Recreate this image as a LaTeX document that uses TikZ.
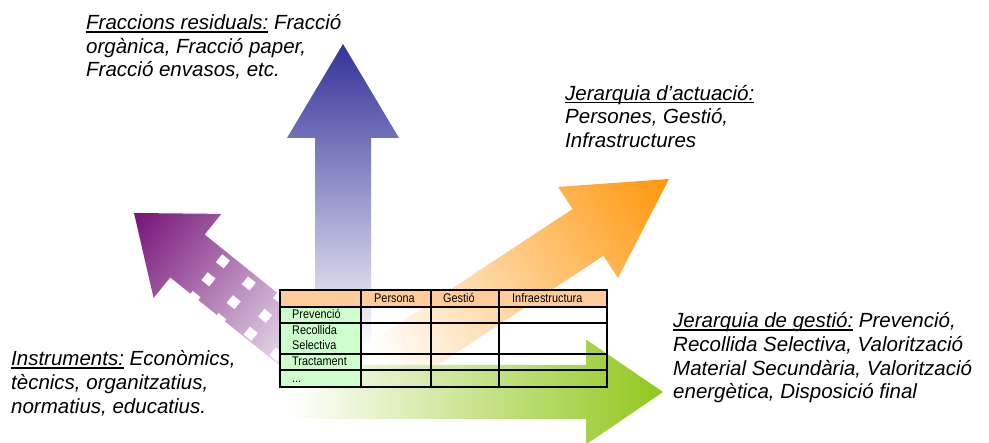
\documentclass[tikz,border=0pt]{standalone}
\usepackage{fontspec}
\setmainfont{Liberation Sans}
\newfontfamily\tabfont[FakeStretch=0.87]{Liberation Sans}
\definecolor{bluetip}{RGB}{51,51,153}
\definecolor{bluemid}{RGB}{145,145,198}
\definecolor{bluetail}{RGB}{252,252,254}
\definecolor{orgtip}{RGB}{255,150,10}
\definecolor{orgmid}{RGB}{252,198,160}
\definecolor{orgtail}{RGB}{255,255,255}
\definecolor{grntip}{RGB}{145,200,30}
\definecolor{grnmid}{RGB}{208,230,170}
\definecolor{grntail}{RGB}{255,255,255}
\definecolor{purtip}{RGB}{118,18,120}
\definecolor{purmid}{RGB}{165,105,168}
\definecolor{purtail}{RGB}{236,228,240}
\definecolor{headfill}{RGB}{255,204,153}
\definecolor{colfill}{RGB}{204,255,204}
\newcommand{\myul}[1]{\setbox0=\hbox{#1}\rlap{\rule[-2.6pt]{\wd0}{1.3pt}}\box0\relax}
\tikzset{
  bigtext/.style={font={\itshape\fontsize{20.5}{24}\selectfont}, inner sep=0pt, anchor=base west},
  celltext/.style={font={\tabfont\fontsize{12.5}{14}\selectfont}, inner sep=0pt, anchor=base west},
  tablerule/.style={line width=1.3pt, black},
  hole/.style={fill=white}
}
\begin{document}
\begin{tikzpicture}[x=1pt,y=-1pt]
\useasboundingbox[fill=white] (0,0) rectangle (989,443);

% blue arrow (up)
\begin{scope}[transform canvas={shift={(343pt,-44pt)},rotate=90}, x=1pt, y=1pt]
\shade[left color=bluetail, middle color=bluemid, right color=bluetip]
 (0,0) -- (-94,56) -- (-94,28) -- (-301,28) -- (-301,-28) -- (-94,-28) -- (-94,-56) -- cycle;
\end{scope}

% orange arrow
\begin{scope}[transform canvas={shift={(669pt,-179pt)},rotate=33.4}, x=1pt, y=1pt]
\shade[left color=orgtail, middle color=orgmid, right color=orgtip]
 (0,0) -- (-97,54.5) -- (-97,28) -- (-340,28) -- (-340,-28) -- (-97,-28) -- (-97,-54.5) -- cycle;
\end{scope}

% green arrow
\begin{scope}[transform canvas={shift={(663pt,-392pt)},rotate=0}, x=1pt, y=1pt]
\shade[left color=grntail, middle color=grnmid, right color=grntip]
 (0,0) -- (-77,52.5) -- (-77,27) -- (-373,27) -- (-373,-27) -- (-77,-27) -- (-77,-52.5) -- cycle;
\end{scope}

% purple arrow
\begin{scope}[transform canvas={shift={(134pt,-213pt)},rotate=141.2}, x=1pt, y=1pt]
\shade[left color=purtail, middle color=purmid, right color=purtip]
 (0,0) -- (-68.6,54) -- (-68.6,27.5) -- (-218.6,27.5) -- (-218.6,-27.5) -- (-68.6,-27.5) -- (-68.6,-54) -- cycle;
\foreach \s/\t in {31/-18, 31/5, 31/29, 65/-17, 65/7, 65/30, 98/-26, 98/-2, 98/21, 131/-26, 131/21}{
  \fill[hole] (-68.6-\s-5,\t-5) rectangle (-68.6-\s+5,\t+5);
}
\end{scope}

% table
\fill[headfill] (280,290) rectangle (607,307);
\fill[colfill] (280,307) rectangle (361,387);
\draw[tablerule] (280,290) rectangle (607,387);
\foreach \yy in {307,323,354,370}{\draw[tablerule] (280,\yy) -- (607,\yy);}
\foreach \xx in {361,431,499}{\draw[tablerule] (\xx,290) -- (\xx,387);}
\node[celltext] (hpers) at (374,302.5) {Persona};
\node[celltext] (hgest) at (443,302.5) {Gestió};
\node[celltext] (hinfr) at (512,302.5) {Infraestructura};
\node[celltext] (rprev) at (292,318.5) {Prevenció};
\node[celltext] (rrec1) at (292,335) {Recollida};
\node[celltext] (rrec2) at (292,350) {Selectiva};
\node[celltext] (rtrac) at (292,366) {Tractament};
\node[celltext] (rdots) at (292,383) {...};

% texts
\node[bigtext] (fr1) at (86,30) {\myul{Fraccions residuals:} Fracció};
\node[bigtext] (fr2) at (86,53.5) {orgànica, Fracció paper,};
\node[bigtext] (fr3) at (86,77) {Fracció envasos, etc.};

\node[bigtext] (ja1) at (565,100.5) {\myul{Jerarquia d’actuació:}};
\node[bigtext] (ja2) at (565,124) {Persones, Gestió,};
\node[bigtext] (ja3) at (565,147.5) {Infrastructures};

\node[bigtext] (jg1) at (673,328) {\myul{Jerarquia de gestió:} Prevenció,};
\node[bigtext] (jg2) at (673,352) {Recollida Selectiva, Valorització};
\node[bigtext] (jg3) at (673,375.5) {Material Secundària, Valorització};
\node[bigtext] (jg4) at (673,399) {energètica, Disposició final};

\node[bigtext] (in1) at (11,366) {\myul{Instruments:} Econòmics,};
\node[bigtext] (in2) at (11,390) {tècnics, organitzatius,};
\node[bigtext] (in3) at (11,413.5) {normatius, educatius.};
\end{tikzpicture}
\end{document}
